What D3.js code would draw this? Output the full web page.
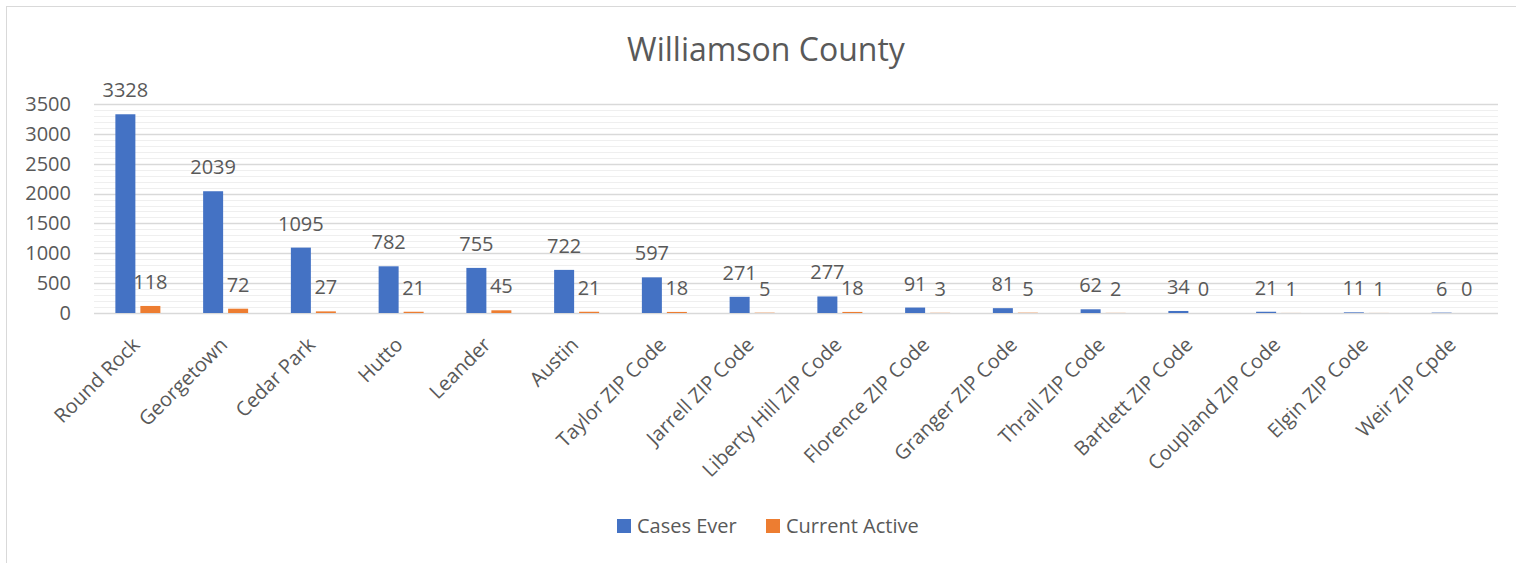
<!DOCTYPE html>
<html>
<head>
<meta charset="utf-8">
<script src="https://cdn.jsdelivr.net/npm/d3@7"></script>
<style>
  body { margin: 0; background: #fff; }
  svg { display: block; font-family: "Open Sans", sans-serif; }
</style>
</head>
<body>
<div id="chart"></div>
<script>
const categories = ["Round Rock", "Georgetown", "Cedar Park", "Hutto", "Leander", "Austin",
  "Taylor ZIP Code", "Jarrell ZIP Code", "Liberty Hill ZIP Code", "Florence ZIP Code",
  "Granger ZIP Code", "Thrall ZIP Code", "Bartlett ZIP Code", "Coupland ZIP Code",
  "Elgin ZIP Code", "Weir ZIP Cpde"];
const casesEver = [3328, 2039, 1095, 782, 755, 722, 597, 271, 277, 91, 81, 62, 34, 21, 11, 6];
const currentActive = [118, 72, 27, 21, 45, 21, 18, 5, 18, 3, 5, 2, 0, 1, 1, 0];
const seriesNames = ["Cases Ever", "Current Active"];
const yTicks = [0, 500, 1000, 1500, 2000, 2500, 3000, 3500];

const width = 1516, height = 563;
const colors = ["#4472C4", "#ED7D31"];
const textColor = "#595959";

const svg = d3.select("#chart").append("svg")
  .attr("width", width)
  .attr("height", height);

// chart frame
svg.append("rect")
  .attr("x", 6.5).attr("y", 6.5)
  .attr("width", 1540).attr("height", 600)
  .attr("fill", "none")
  .attr("stroke", "#d9d9d9");

const margin = {left: 94, right: 18, top: 104, bottom: 250};

const x = d3.scaleBand()
  .domain(categories)
  .range([margin.left, width - margin.right]);

const y = d3.scaleLinear()
  .domain([0, 3500])
  .range([height - margin.bottom, margin.top]);

// gridlines: minor every 100, major every 500
const grid = svg.append("g");
grid.selectAll("line.minor")
  .data(d3.range(100, 3500, 100).filter(v => v % 500 !== 0))
  .enter().append("line")
  .attr("x1", x.range()[0]).attr("x2", x.range()[1])
  .attr("y1", d => Math.round(y(d)) + 0.5).attr("y2", d => Math.round(y(d)) + 0.5)
  .attr("stroke", "#efefef");
grid.selectAll("line.major")
  .data(yTicks)
  .enter().append("line")
  .attr("x1", x.range()[0]).attr("x2", x.range()[1])
  .attr("y1", d => Math.round(y(d)) + 0.5).attr("y2", d => Math.round(y(d)) + 0.5)
  .attr("stroke", "#d9d9d9")
  .attr("stroke-width", 1.5);

// y axis labels
const yAxis = svg.append("g")
  .attr("transform", `translate(${x.range()[0]},0)`)
  .call(d3.axisLeft(y).tickValues(yTicks).tickFormat(d3.format("d")).tickSize(0).tickPadding(23));
yAxis.select(".domain").remove();
yAxis.selectAll("text")
  .attr("fill", textColor)
  .style("font-size", "20px")
  .style("font-family", "Open Sans, sans-serif");

// bars
const barW = 20, barGap = 5;
const offsets = [-(barW + barGap / 2) , barGap / 2];
const series = [casesEver, currentActive];

series.forEach((vals, si) => {
  const g = svg.append("g");
  g.selectAll("rect")
    .data(vals)
    .enter().append("rect")
    .attr("x", (d, i) => x(categories[i]) + x.bandwidth() / 2 + offsets[si])
    .attr("y", d => y(d))
    .attr("width", barW)
    .attr("height", d => y(0) - y(d))
    .attr("fill", colors[si]);
  g.selectAll("text")
    .data(vals)
    .enter().append("text")
    .attr("x", (d, i) => x(categories[i]) + x.bandwidth() / 2 + offsets[si] + barW / 2)
    .attr("y", d => y(d) - 17)
    .attr("text-anchor", "middle")
    .attr("fill", textColor)
    .style("font-size", "20px")
    .text(d => d);
});

// category labels
const xAxis = svg.append("g")
  .attr("transform", `translate(0,${y(0)})`)
  .call(d3.axisBottom(x).tickSize(0).tickPadding(0));
xAxis.select(".domain").remove();
xAxis.selectAll("text")
  .attr("fill", textColor)
  .style("font-size", "20px")
  .style("font-family", "Open Sans, sans-serif")
  .attr("text-anchor", "end")
  .attr("y", 0)
  .attr("dy", null)
  .attr("transform", "translate(3,33) rotate(-45)");

// title
svg.append("text")
  .attr("x", 766).attr("y", 61)
  .attr("text-anchor", "middle")
  .attr("fill", textColor)
  .style("font-size", "32px")
  .text("Williamson County");

// legend
const legend = svg.append("g");
const legendX = [617, 766];
seriesNames.forEach((name, i) => {
  legend.append("rect")
    .attr("x", legendX[i]).attr("y", 519)
    .attr("width", 14).attr("height", 14)
    .attr("fill", colors[i]);
  legend.append("text")
    .attr("x", legendX[i] + 20).attr("y", 533)
    .attr("fill", textColor)
    .style("font-size", "20px")
    .text(name);
});
</script>
</body>
</html>
